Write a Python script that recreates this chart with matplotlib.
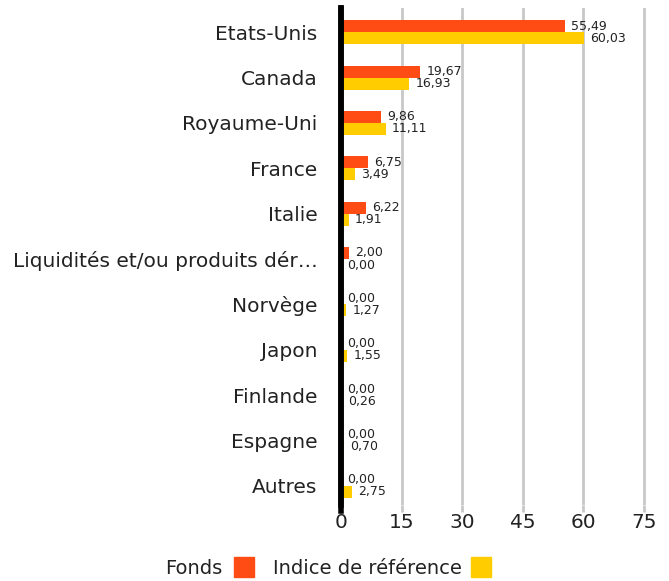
import matplotlib
matplotlib.use("Agg")
import matplotlib.pyplot as plt
from matplotlib.patches import Rectangle
import numpy as np

categories = ["Etats-Unis", "Canada", "Royaume-Uni", "France", "Italie",
              "Liquidités et/ou produits dér…", "Norvège", "Japon",
              "Finlande", "Espagne", "Autres"]
fonds = [55.49, 19.67, 9.86, 6.75, 6.22, 2.00, 0.00, 0.00, 0.00, 0.00, 0.00]
indice = [60.03, 16.93, 11.11, 3.49, 1.91, 0.00, 1.27, 1.55, 0.26, 0.70, 2.75]
ticks = [0, 15, 30, 45, 60, 75]

red = "#FF4B14"
yellow = "#FFCC00"
plt.rcParams['font.family'] = ['DejaVu Sans']

fig = plt.figure(figsize=(6.69, 5.81), dpi=100)
ax = fig.add_axes([341 / 669, 0.131, 305 / 669, 0.855])

y = np.arange(len(categories))
h = 0.265
ax.barh(y - h / 2, fonds, height=h, color=red, zorder=3)
ax.barh(y + h / 2, indice, height=h, color=yellow, zorder=3)

def fmt(v):
    return f"{v:.2f}".replace(".", ",")

for i in range(len(categories)):
    ax.annotate(fmt(fonds[i]), (fonds[i], y[i] - h / 2), xytext=(4.5, 0),
                textcoords="offset points", va="center", ha="left",
                fontsize=9, color="#222222", zorder=4)
    ax.annotate(fmt(indice[i]), (indice[i], y[i] + h / 2), xytext=(4.5, 0),
                textcoords="offset points", va="center", ha="left",
                fontsize=9, color="#222222", zorder=4)

ax.set_xlim(0, 75.5)
ax.set_ylim(len(categories) - 1 + 0.42, -0.53)
ax.set_yticks(y)
ax.set_yticklabels(categories, fontsize=14.5, color="#222222")
ax.set_xticks(ticks)
ax.set_xticklabels([str(t) for t in ticks], fontsize=14.5, color="#222222")
ax.tick_params(axis="y", length=0, pad=17)
ax.tick_params(axis="x", length=5, width=2, color="#c8c8c8", pad=1)
ax.grid(axis="x", color="#c8c8c8", linewidth=2, zorder=0)
for s in ["top", "right", "bottom"]:
    ax.spines[s].set_visible(False)
ax.spines["left"].set_linewidth(4)
ax.spines["left"].set_color("black")
ax.spines["left"].set_zorder(5)
ax.axvline(0, ymin=-0.012, ymax=1, color="black", linewidth=4, clip_on=False, zorder=5)

# legend
fig.text(165 / 669, 1 - 568 / 581, "Fonds", fontsize=14, va="center", ha="left", color="#222222")
fig.patches.append(Rectangle((234 / 669, 1 - 577 / 581), 20 / 669, 20 / 581,
                             transform=fig.transFigure, color=red))
fig.text(273 / 669, 1 - 568 / 581, "Indice de référence", fontsize=14, va="center", ha="left", color="#222222")
fig.patches.append(Rectangle((471 / 669, 1 - 577 / 581), 20 / 669, 20 / 581,
                             transform=fig.transFigure, color=yellow))

fig.savefig("out.png", dpi=100)
